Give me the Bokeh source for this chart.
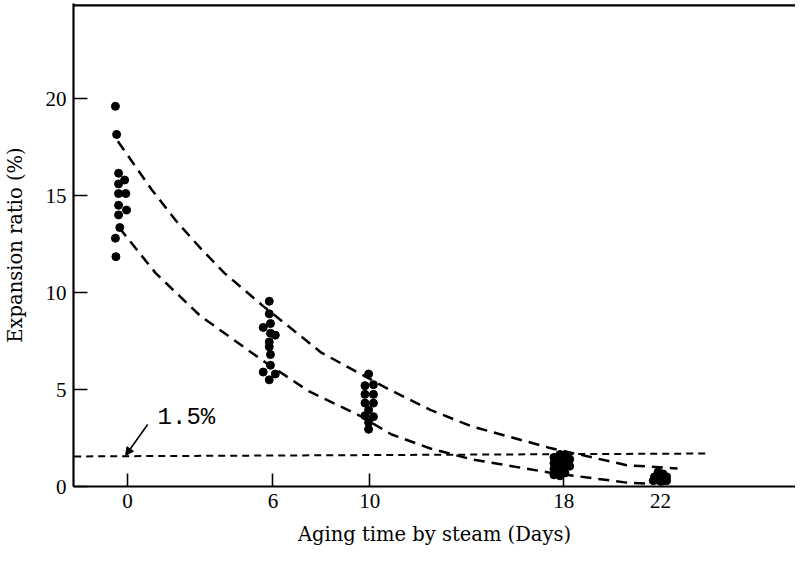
from bokeh.plotting import figure
from bokeh.models import Range1d, FixedTicker, Label, Span, Arrow, NormalHead
from bokeh.embed import file_html
from bokeh.resources import INLINE

# ---------------- data ----------------
x_ticks = [0, 6, 10, 18, 22]
y_ticks = [0, 5, 10, 15, 20]

day0_x = [-0.5, -0.45, -0.37, -0.12, -0.37, -0.37, -0.07, -0.37, -0.04, -0.37, -0.32, -0.5, -0.48]
day0_y = [19.6, 18.15, 16.15, 15.8, 15.6, 15.1, 15.1, 14.5, 14.25, 14.0, 13.35, 12.8, 11.85]

day6_x = [5.85, 5.85, 5.6, 5.9, 5.9, 6.1, 5.85, 5.85, 5.9, 5.9, 5.6, 6.1, 5.85]
day6_y = [9.55, 8.9, 8.2, 8.4, 7.9, 7.8, 7.45, 7.2, 6.8, 6.25, 5.9, 5.8, 5.5]

day10_x = [9.95, 9.8, 10.15, 9.8, 10.15, 9.8, 10.15, 9.95, 9.8, 10.15, 9.95, 9.95]
day10_y = [5.8, 5.2, 5.25, 4.75, 4.75, 4.3, 4.3, 3.95, 3.65, 3.6, 3.3, 2.95]

day18_x = [17.6, 17.6, 17.6, 17.6, 17.85, 17.85, 17.85, 17.85, 17.85,
           18.05, 18.05, 18.05, 18.05, 18.25, 18.25]
day18_y = [1.5, 1.2, 0.9, 0.6, 1.65, 1.35, 1.05, 0.8, 0.55,
           1.6, 1.3, 1.0, 0.7, 1.4, 1.05]

day22_x = [21.7, 21.75, 21.9, 21.95, 21.95, 22.1, 22.1, 22.1, 22.25, 22.25]
day22_y = [0.3, 0.5, 0.75, 0.5, 0.3, 0.65, 0.45, 0.28, 0.3, 0.5]

upper_x = [-0.4, 1.0, 2.0, 3.0, 4.0, 5.6, 8.0, 10.8, 12.5, 14.2, 17.4, 20.6, 22.7]
upper_y = [17.8, 15.3, 13.7, 12.3, 11.0, 9.3, 6.9, 5.0, 3.95, 3.1, 2.0, 1.1, 0.93]

lower_x = [-0.35, 1.16, 3.0, 5.57, 7.5, 9.57, 10.9, 12.5, 14.2, 17.4, 20.6, 21.4]
lower_y = [13.35, 11.0, 8.8, 6.5, 4.9, 3.66, 2.68, 1.96, 1.4, 0.72, 0.2, 0.15]

limit_x = [-2.2, 23.85]
limit_y = [1.55, 1.7]
limit_text = "1.5%"

x_title = "Aging time by steam (Days)"
y_title = "Expansion ratio (%)"

# ---------------- figure ----------------
TICK_FONT = "Liberation Serif"
TITLE_FONT = "DejaVu Serif"

p = figure(width=795, height=553, output_backend="svg", toolbar_location=None,
           x_range=Range1d(-2.23, 27.57), y_range=Range1d(0, 24.9),
           min_border_left=73, min_border_right=0, min_border_top=3,
           min_border_bottom=67, background_fill_color="white",
           border_fill_color="white")
p.outline_line_color = None
p.grid.visible = False

for ax in (p.xaxis[0], p.yaxis[0]):
    ax.axis_line_width = 2.2
    ax.axis_line_color = "black"
    ax.major_tick_line_width = 1.6
    ax.major_tick_out = 0
    ax.minor_tick_line_color = None
    ax.major_label_text_font = TICK_FONT
    ax.major_label_text_font_size = "21px"
    ax.major_label_text_color = "black"
    ax.axis_label_text_font = TITLE_FONT
    ax.axis_label_text_font_size = "19.5px"
    ax.axis_label_text_font_style = "normal"
    ax.axis_label_text_color = "black"

p.xaxis[0].ticker = FixedTicker(ticks=x_ticks)
p.xaxis[0].major_tick_in = 13
p.xaxis[0].major_label_standoff = 7
p.xaxis[0].axis_label = x_title
p.xaxis[0].axis_label_standoff = 12

p.yaxis[0].ticker = FixedTicker(ticks=y_ticks)
p.yaxis[0].major_tick_in = 14
p.yaxis[0].major_label_standoff = 7
p.yaxis[0].axis_label = y_title
p.yaxis[0].axis_label_standoff = 16

# top frame line
p.add_layout(Span(location=24.8, dimension="width", line_color="black", line_width=2.2))

# envelope curves
p.line(upper_x, upper_y, line_color="black", line_width=2.5, line_dash="11 7")
p.line(lower_x, lower_y, line_color="black", line_width=2.5, line_dash="11 7")
# 1.5% limit line
p.line(limit_x, limit_y, line_color="black", line_width=2, line_dash="7 5")

# measurement points
for xs, ys in ((day0_x, day0_y), (day6_x, day6_y), (day10_x, day10_y),
               (day18_x, day18_y), (day22_x, day22_y)):
    p.scatter(xs, ys, size=8, color="black", marker="circle")

# annotation
p.add_layout(Label(x=1.24, y=3.56, text=limit_text, text_font="Liberation Mono",
                   text_font_size="24px", text_align="left", text_baseline="middle",
                   text_color="black"))
p.add_layout(Arrow(x_start=0.83, y_start=3.2, x_end=-0.08, y_end=1.6,
                   line_width=1.6, line_color="black",
                   end=NormalHead(size=8, fill_color="black", line_color="black")))

open("out.html", "w").write(file_html(p, INLINE))
